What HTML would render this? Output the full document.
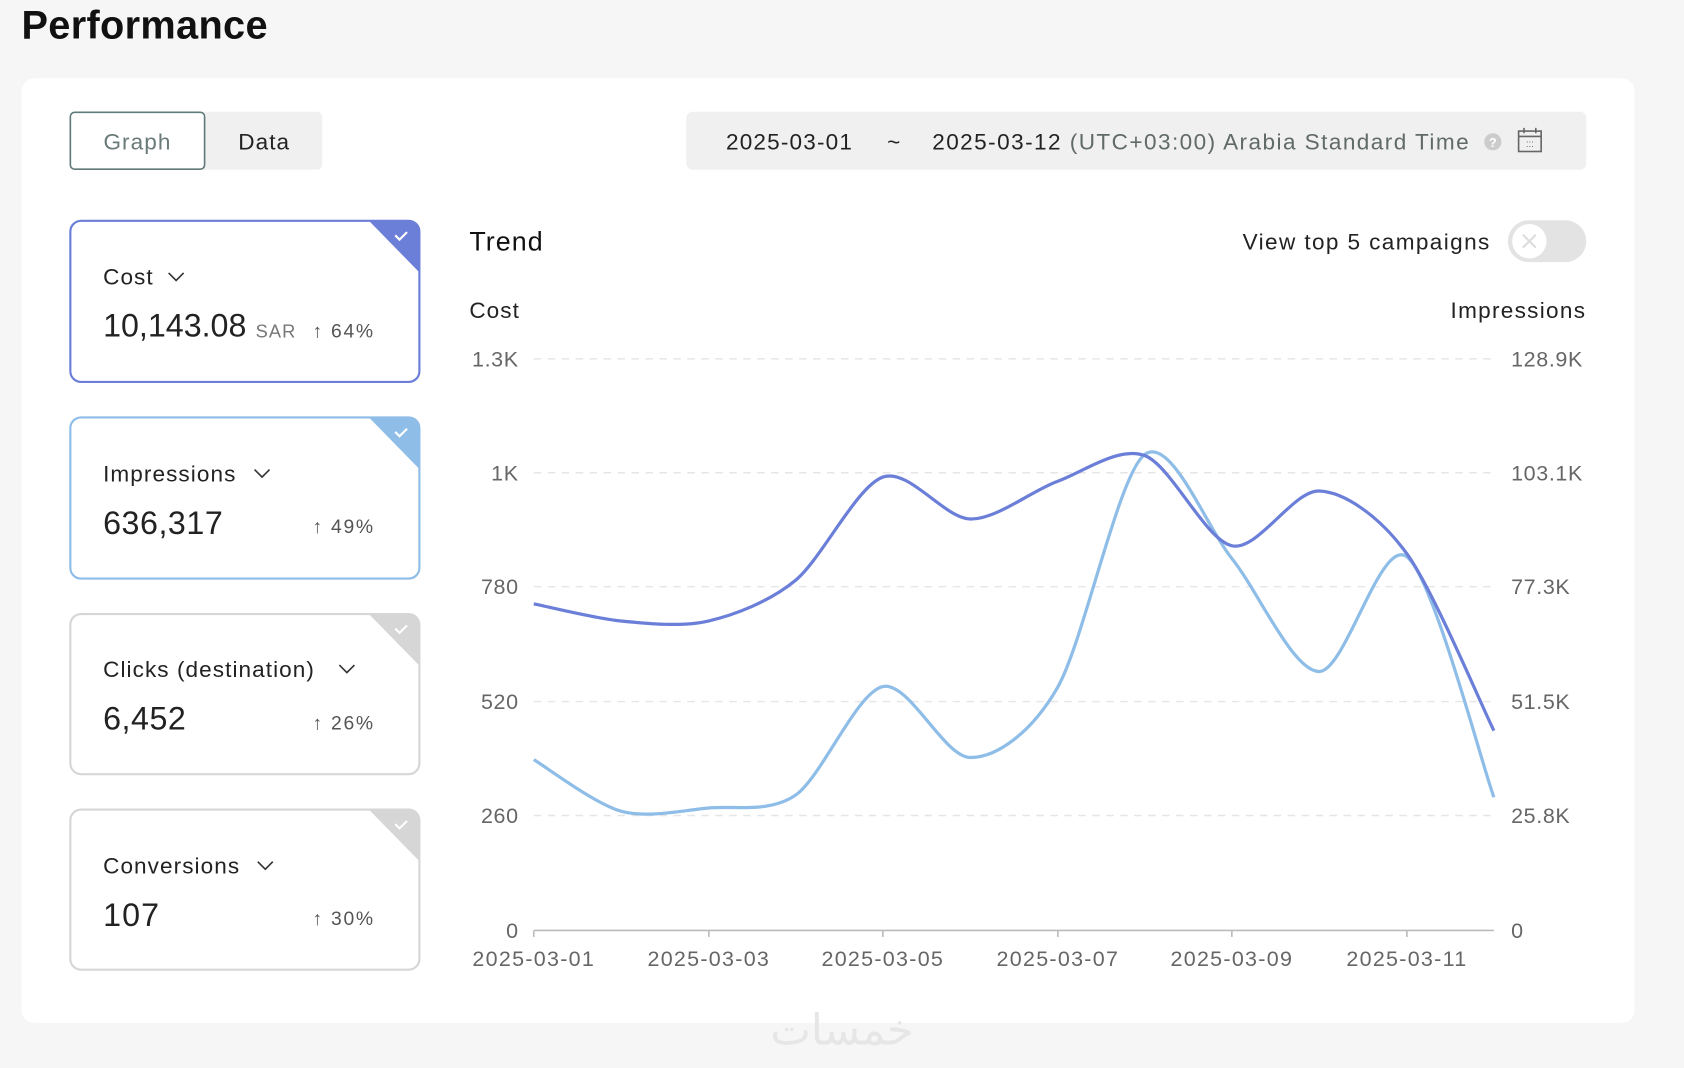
<!DOCTYPE html>
<html><head><meta charset="utf-8"><style>
html,body{margin:0;padding:0;background:#f6f6f6;width:1684px;height:1068px;overflow:hidden}
svg{display:block;font-family:"Liberation Sans","Noto Sans CJK SC",sans-serif}
</style></head><body>
<svg width="1684" height="1068" viewBox="0 0 1568 994" preserveAspectRatio="none" xmlns="http://www.w3.org/2000/svg">
<rect width="1568" height="994" fill="#f6f6f6"/>
<text x="20" y="36" font-size="37" font-weight="bold" fill="#111" letter-spacing="0.3">Performance</text>
<rect x="20" y="73" width="1502" height="879" rx="12" fill="#fff"/>
<g letter-spacing="1">
<rect x="65" y="104" width="235" height="54" rx="5" fill="#f0f0f0"/>
<rect x="65.5" y="104.5" width="125" height="53" rx="4" fill="#fff" stroke="#5f7a78" stroke-width="1.5"/>
<text x="128" y="139" font-size="21" fill="#6a7a78" text-anchor="middle">Graph</text>
<text x="246" y="139" font-size="21" fill="#222" text-anchor="middle">Data</text>
<rect x="639" y="104" width="838" height="54" rx="6" fill="#f0f0f0"/>
<text x="676" y="139" font-size="21" fill="#222" letter-spacing="1.1">2025-03-01</text>
<text x="826" y="139" font-size="21" fill="#222">~</text>
<text x="868" y="139" font-size="21" fill="#222" letter-spacing="1.35">2025-03-12 <tspan fill="#606a68">(UTC+03:00) Arabia Standard Time</tspan></text>
</g>
<circle cx="1390" cy="132" r="8" fill="#ccc"/><text x="1390" y="137" font-size="12" fill="#fff" text-anchor="middle" font-weight="bold">?</text>
<rect x="1414" y="122" width="21" height="19" fill="none" stroke="#666" stroke-width="1.5"/><line x1="1414" y1="127" x2="1435" y2="127" stroke="#666" stroke-width="1.5"/>
<line x1="1419" y1="119" x2="1419" y2="124" stroke="#666" stroke-width="1.5"/><line x1="1430" y1="119" x2="1430" y2="124" stroke="#666" stroke-width="1.5"/>
<text x="1424.5" y="137" font-size="9" fill="#666" text-anchor="middle">:::</text>
<g font-size="21" fill="#222" letter-spacing="1">
<rect x="65.5" y="205.5" width="325" height="150" rx="10" fill="#fff" stroke="#6b7fd9" stroke-width="2"/>
<path d="M343 205 H380 a10 10 0 0 1 10 10 V253 Z" fill="#6b7fd9"/>
<path d="M368 219 l4 4 l7 -7" stroke="#fff" stroke-width="2" fill="none"/>
<text x="96" y="265">Cost</text><path d="M157 254 l7 7 l7 -7" stroke="#333" stroke-width="1.5" fill="none"/>
<text x="96" y="313" font-size="30" letter-spacing="0">10,143.08</text><text x="238" y="314" font-size="17" fill="#777">SAR</text>
<text x="291" y="314" font-size="18" fill="#555" letter-spacing="1.6">↑  64%</text>

<rect x="65.5" y="388.5" width="325" height="150" rx="10" fill="#fff" stroke="#8ebde8" stroke-width="2"/>
<path d="M343 388 H380 a10 10 0 0 1 10 10 V436 Z" fill="#8ebde8"/>
<path d="M368 402 l4 4 l7 -7" stroke="#fff" stroke-width="2" fill="none"/>
<text x="96" y="448">Impressions</text><path d="M237 437 l7 7 l7 -7" stroke="#333" stroke-width="1.5" fill="none"/>
<text x="96" y="497" font-size="30" letter-spacing="0.5">636,317</text>
<text x="291" y="496" font-size="18" fill="#555" letter-spacing="1.6">↑  49%</text>

<rect x="65.5" y="571.5" width="325" height="149" rx="10" fill="#fff" stroke="#d6d6d6" stroke-width="2"/>
<path d="M343 571 H380 a10 10 0 0 1 10 10 V619 Z" fill="#d6d6d6"/>
<path d="M368 585 l4 4 l7 -7" stroke="#fff" stroke-width="2" fill="none"/>
<text x="96" y="630">Clicks (destination)</text><path d="M316 619 l7 7 l7 -7" stroke="#333" stroke-width="1.5" fill="none"/>
<text x="96" y="679" font-size="30" letter-spacing="0.5">6,452</text>
<text x="291" y="679" font-size="18" fill="#555" letter-spacing="1.6">↑  26%</text>

<rect x="65.5" y="753.5" width="325" height="149" rx="10" fill="#fff" stroke="#d6d6d6" stroke-width="2"/>
<path d="M343 753 H380 a10 10 0 0 1 10 10 V801 Z" fill="#d6d6d6"/>
<path d="M368 767 l4 4 l7 -7" stroke="#fff" stroke-width="2" fill="none"/>
<text x="96" y="813">Conversions</text><path d="M240 802 l7 7 l7 -7" stroke="#333" stroke-width="1.5" fill="none"/>
<text x="96" y="862" font-size="30">107</text>
<text x="291" y="861" font-size="18" fill="#555" letter-spacing="1.6">↑  30%</text>
</g>
<text x="437" y="233" font-size="25" fill="#111" letter-spacing="1">Trend</text>
<text x="1388" y="232" font-size="21" fill="#222" text-anchor="end" letter-spacing="1.3">View top 5 campaigns</text>
<rect x="1404" y="205" width="73" height="39" rx="19.5" fill="#e3e3e3"/>
<circle cx="1424" cy="224.5" r="16" fill="#fff"/>
<path d="M1418 218.5 l12 12 M1430 218.5 l-12 12" stroke="#ddd" stroke-width="2"/>
<text x="437" y="296" font-size="21" fill="#222" letter-spacing="1">Cost</text>
<text x="1477" y="296" font-size="21" fill="#222" text-anchor="end" letter-spacing="1.2">Impressions</text>
<g stroke="#e6e6e6" stroke-dasharray="7 6" stroke-width="1.3">
<line x1="497" x2="1391" y1="334" y2="334"/><line x1="497" x2="1391" y1="440" y2="440"/>
<line x1="497" x2="1391" y1="546" y2="546"/><line x1="497" x2="1391" y1="653" y2="653"/>
<line x1="497" x2="1391" y1="759" y2="759"/>
</g>
<line x1="497" x2="1391" y1="866" y2="866" stroke="#bbb" stroke-width="1.5"/>
<g stroke="#bbb" stroke-width="1.5">
<line x1="497" x2="497" y1="866" y2="872"/><line x1="660" x2="660" y1="866" y2="872"/><line x1="822" x2="822" y1="866" y2="872"/>
<line x1="985" x2="985" y1="866" y2="872"/><line x1="1147" x2="1147" y1="866" y2="872"/><line x1="1310" x2="1310" y1="866" y2="872"/>
</g>
<g font-size="20" fill="#666" text-anchor="end" letter-spacing="0.6">
<text x="483" y="341">1.3K</text><text x="483" y="447">1K</text><text x="483" y="553">780</text>
<text x="483" y="660">520</text><text x="483" y="766">260</text><text x="483" y="873">0</text>
</g>
<g font-size="20" fill="#666" letter-spacing="0.6">
<text x="1407" y="341">128.9K</text><text x="1407" y="447">103.1K</text><text x="1407" y="553">77.3K</text>
<text x="1407" y="660">51.5K</text><text x="1407" y="766">25.8K</text><text x="1407" y="873">0</text>
</g>
<g font-size="20" fill="#666" text-anchor="middle" letter-spacing="1.2">
<text x="497" y="899">2025-03-01</text><text x="660" y="899">2025-03-03</text><text x="822" y="899">2025-03-05</text>
<text x="985" y="899">2025-03-07</text><text x="1147" y="899">2025-03-09</text><text x="1310" y="899">2025-03-11</text>
</g>
<path id="l2" fill="none" stroke="#8ebde8" stroke-width="3"/>
<path id="l1" fill="none" stroke="#6b7fd9" stroke-width="3"/>
<text x="784" y="972" font-size="40" fill="#e6e6e6" text-anchor="middle" font-family="Noto Sans CJK SC, sans-serif">خمسات</text>
</svg>
<script>
function path(ys){var xs=[],i;for(i=0;i<12;i++)xs.push(497+i*81.27);
var d="M"+xs[0]+" "+ys[0];
for(i=0;i<11;i++){var x0=xs[i-1]!==undefined?xs[i-1]:xs[i],y0=ys[i-1]!==undefined?ys[i-1]:ys[i];
var x3=xs[i+2]!==undefined?xs[i+2]:xs[i+1],y3=ys[i+2]!==undefined?ys[i+2]:ys[i+1];
var t=0.15;
d+=" C"+(xs[i]+(xs[i+1]-x0)*t)+" "+(ys[i]+(ys[i+1]-y0)*t)+" "+(xs[i+1]-(x3-xs[i])*t)+" "+(ys[i+1]-(y3-ys[i])*t)+" "+xs[i+1]+" "+ys[i+1];}
return d;}
document.getElementById("l1").setAttribute("d",path([562,578,578,540,444,483,448,424,508,457,515,680]));
document.getElementById("l2").setAttribute("d",path([707,755,752,740,639,705,640,423,520,625,518,742]));
</script>
</body></html>
